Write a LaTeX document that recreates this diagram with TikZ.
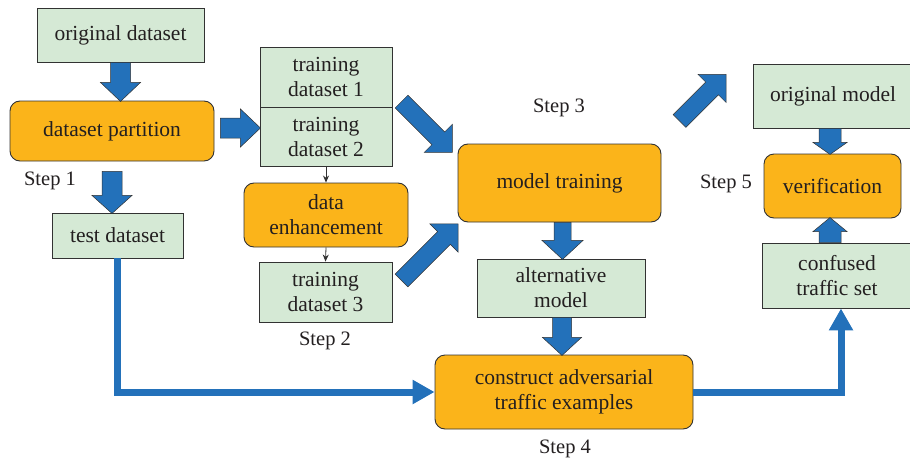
\documentclass[tikz,border=0pt]{standalone}
\usepackage{fontspec}
\setmainfont{Liberation Serif}
\usetikzlibrary{arrows.meta,calc}
\definecolor{boxgreen}{RGB}{213,233,213}
\definecolor{boxorange}{RGB}{251,180,26}
\definecolor{arrowblue}{RGB}{35,113,186}
\definecolor{edgegray}{RGB}{50,50,50}
\definecolor{textdark}{RGB}{35,31,32}
\tikzset{
  base/.style={draw=edgegray, line width=0.9pt, align=center, inner sep=0pt,
    font=\fontsize{21.5}{25}\selectfont, text=textdark},
  greenbox/.style={base, fill=boxgreen},
  orangebox/.style={base, fill=boxorange, rounded corners=10pt},
  steplabel/.style={font=\fontsize{20.5}{24}\selectfont, text=textdark},
  barrowst/.style={fill=arrowblue, draw=edgegray, line width=0.5pt},
  blueline/.style={draw=arrowblue, line width=7pt, -{Triangle[length=22pt,width=23pt]}},
  thinarrow/.style={draw=edgegray, line width=0.8pt, -{Stealth[length=7pt,width=6pt]}}
}
% #1 tail, #2 canvas angle, #3 length, #4 shaft half width, #5 head half width, #6 head length
\newcommand\blockarrow[6]{%
  \filldraw[barrowst, shift={#1}, rotate=#2]
    (0,-#4) -- (#3-#6,-#4) -- (#3-#6,-#5) -- (#3,0) -- (#3-#6,#5) -- (#3-#6,#4) -- (0,#4) -- cycle;}
\begin{document}
\begin{tikzpicture}[x=1pt,y=-1pt]
\useasboundingbox (0,0) rectangle (910,460);
% nodes
\node[greenbox, minimum width=167pt, minimum height=54pt] (od) at (120.5,35) {original dataset};
\node[orangebox, minimum width=204pt, minimum height=60pt] (dp) at (112,131) {dataset partition};
\node[greenbox, minimum width=132pt, minimum height=60pt] (td1) at (326,77) {training\\dataset 1};
\node[greenbox, minimum width=132pt, minimum height=59pt] (td2) at (326,136.5) {training\\dataset 2};
\node[orangebox, minimum width=164pt, minimum height=64pt] (de) at (326,215) {data\\enhancement};
\node[greenbox, minimum width=133pt, minimum height=60pt] (td3) at (325.5,292) {training\\dataset 3};
\node[greenbox, minimum width=131pt, minimum height=45pt] (test) at (117.5,235.5) {test dataset};
\node[orangebox, minimum width=203pt, minimum height=78pt] (mt) at (559.5,183) {model training};
\node[greenbox, minimum width=168pt, minimum height=58pt] (alt) at (561,288) {alternative\\model};
\node[orangebox, minimum width=258pt, minimum height=74pt] (con) at (564,392) {construct adversarial\\traffic examples};
\node[greenbox, minimum width=160pt, minimum height=64pt] (om) at (833,96) {original model};
\node[orangebox, minimum width=137pt, minimum height=64pt] (ver) at (832.5,186) {verification};
\node[greenbox, minimum width=150pt, minimum height=65pt] (conf) at (837,275.5) {confused\\traffic set};
% step labels
\node[steplabel] (s1) at (50,181) {Step 1};
\node[steplabel] (s2) at (325,341) {Step 2};
\node[steplabel] (s3) at (559,108) {Step 3};
\node[steplabel] (s4) at (565,449) {Step 4};
\node[steplabel] (s5) at (726,184) {Step 5};
% block arrows
\blockarrow{(od.south)}{-90}{39}{10}{20}{19}
\blockarrow{($(dp.east)+(6,-3)$)}{0}{40}{10}{19}{20}
\blockarrow{($(dp.south)+(0,10)$)}{-90}{42}{10}{20}{18}
\blockarrow{($(mt.north west)+(-56,-42)$)}{-45}{72}{9}{20}{20}
\blockarrow{($(mt.south west)+(-56,58)$)}{45}{80}{9}{20}{20}
\blockarrow{($(om.west)+(-73,25)$)}{45}{66}{9}{20}{20}
\blockarrow{($(mt.south)+(3,0)$)}{-90}{37}{8.5}{20.5}{19}
\blockarrow{($(alt.south)+(1,0)$)}{-90}{38}{9.5}{19.5}{18}
\blockarrow{($(om.south)+(-3,0)$)}{-90}{26}{11}{17}{12}
\blockarrow{($(conf.north)+(-7,0)$)}{90}{25}{11}{17}{14}
% thin arrows
\draw[thinarrow] (td2.south) -- (de.north);
\draw[thinarrow] (de.south) -- (td3.north);
% blue connectors
\coordinate (cup) at ($(conf.south)+(4,0)$);
\draw[blueline] (test.south) |- (con.west);
\draw[blueline] (con.east) -| (cup);
\end{tikzpicture}
\end{document}
